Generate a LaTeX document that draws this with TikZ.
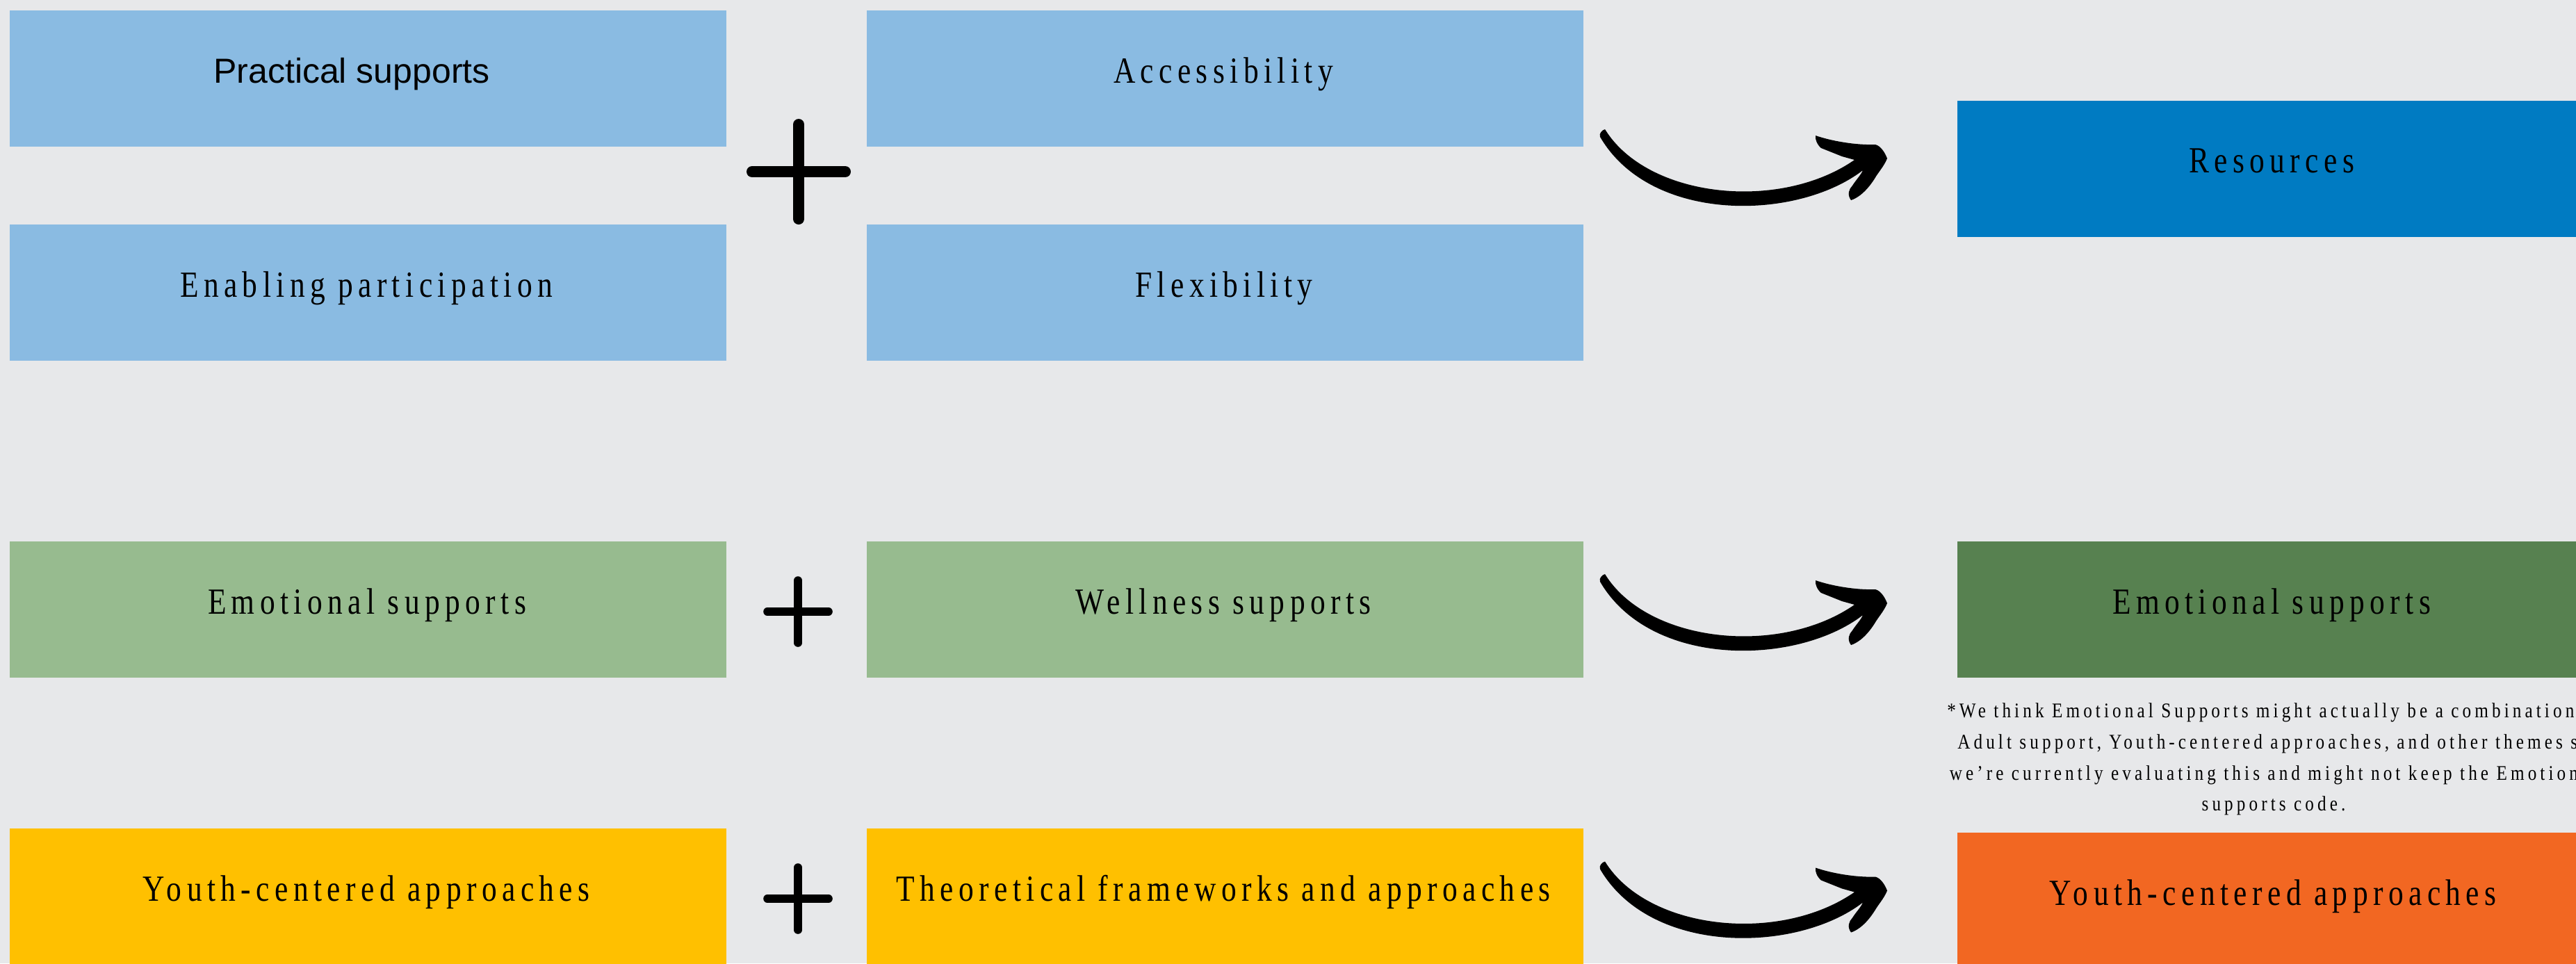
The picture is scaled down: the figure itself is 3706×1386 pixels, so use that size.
\documentclass[tikz,border=0pt]{standalone}
\usepackage{fontspec}
\setmainfont{Liberation Serif}
\newfontfamily\condserif[FakeStretch=0.82,LetterSpace=14]{Liberation Serif}
\newfontfamily\noteserif[FakeStretch=0.84,LetterSpace=17]{Liberation Serif}
\newfontfamily\sansf{Liberation Sans}
\definecolor{bgc}{HTML}{E7E8EA}
\definecolor{lblue}{HTML}{8ABBE2}
\definecolor{dblue}{HTML}{007BC2}
\definecolor{lgreen}{HTML}{97BB8F}
\definecolor{dgreen}{HTML}{578150}
\definecolor{yell}{HTML}{FFC000}
\definecolor{orng}{HTML}{F26722}
\tikzset{
  box/.style={rectangle, inner sep=0pt, outer sep=0pt, draw=none,
    minimum width=257.75pt, minimum height=49pt},
  txt/.style={anchor=base, inner sep=0pt, outer sep=0pt,
    font=\condserif\fontsize{13.25}{15}\selectfont},
  sanstxt/.style={anchor=base, inner sep=0pt, outer sep=0pt,
    font=\sansf\fontsize{12.5}{14}\selectfont},
  notetxt/.style={anchor=base, inner sep=0pt, outer sep=0pt,
    font=\noteserif\fontsize{7.5}{11.25}\selectfont},
  plusbig/.style={line width=4pt, line cap=round, black},
  plussmall/.style={line width=2.9pt, line cap=round, black},
}
\newcommand\handarrow[1]{%
  \fill[black, shift={#1}]
    (59,46) .. controls (120,145) and (310,165) .. (418,90)
    -- (400,85) -- (370,73)
    .. controls (364,68) and (361,60) .. (362,55)
    .. controls (385,63) and (420,69) .. (448,68)
    .. controls (456,70) and (462,80) .. (465,88)
    .. controls (460,100) and (452,108) .. (447,117)
    .. controls (440,128) and (428,143) .. (413,148)
    .. controls (407,140) and (410,132) .. (415,127)
    .. controls (420,119) and (427,112) .. (430,105)
    .. controls (335,178) and (125,182) .. (52,57)
    .. controls (50,52) and (55,47) .. (59,46) -- cycle;}
\begin{document}
\begin{tikzpicture}[x=0.25pt, y=-0.25pt]
\useasboundingbox (0,0) rectangle (3706,1386);
\clip (0,0) rectangle (3706,1386);
\fill[bgc] (0,0) rectangle (3706,1386);

% row 1
\node[box, fill=lblue] (b1) at (529.5,113) {};
\node[box, fill=lblue] (b2) at (529.5,420.5) {};
\node[box, fill=lblue] (b3) at (1762.5,113) {};
\node[box, fill=lblue] (b4) at (1762.5,420.5) {};
\node[box, fill=dblue] (r1) at (3331.5,243) {};
\node[sanstxt] (t1) at (506,119) {Practical supports};
\node[txt] (t2) at (527,427) {Enabling participation};
\node[txt] (t3) at (1760,119) {Accessibility};
\node[txt] (t4) at (1761,427) {Flexibility};
\node[txt] (t5) at (3268,248) {Resources};
\draw[plusbig] (1082,247) -- (1216,247);
\draw[plusbig] (1149,179) -- (1149,315);
\handarrow{(2250,140)}

% row 2
\node[box, fill=lgreen] (c1) at (529.5,877) {};
\node[box, fill=lgreen] (c2) at (1762.5,877) {};
\node[box, fill=dgreen] (r2) at (3331.5,877) {};
\node[txt] (u1) at (528,883) {Emotional supports};
\node[txt] (u2) at (1760,883) {Wellness supports};
\node[txt] (u3) at (3268,883) {Emotional supports};
\draw[plussmall] (1104,880) -- (1192,880);
\draw[plussmall] (1148,835) -- (1148,925);
\handarrow{(2250,780)}
\node[notetxt] (n1) at (3271,1032) {*We think Emotional Supports might actually be a combination of};
\node[notetxt] (n2) at (3271,1077) {Adult support, Youth-centered approaches, and other themes so};
\node[notetxt] (n3) at (3271,1122) {we’re currently evaluating this and might not keep the Emotional};
\node[notetxt] (n4) at (3271,1166) {supports code.};

% row 3
\node[box, fill=yell] (d1) at (529.5,1290) {};
\node[box, fill=yell] (d2) at (1762.5,1290) {};
\node[box, fill=orng] (r3) at (3331.5,1296) {};
\node[txt] (v1) at (527,1296) {Youth-centered approaches};
\node[txt] (v2) at (1760,1296) {Theoretical frameworks and approaches};
\node[txt] (v3) at (3270,1302) {Youth-centered approaches};
\draw[plussmall] (1104,1293) -- (1192,1293);
\draw[plussmall] (1148,1248) -- (1148,1338);
\handarrow{(2250,1193.5)}
\end{tikzpicture}
\end{document}
